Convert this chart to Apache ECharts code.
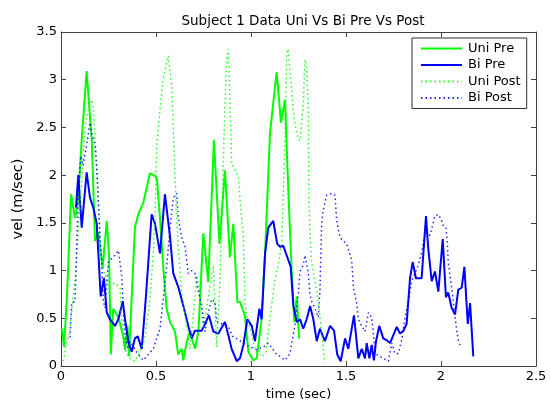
<!DOCTYPE html>
<html>
<head>
<meta charset="utf-8">
<script src="https://cdn.jsdelivr.net/npm/echarts@6/dist/echarts.min.js"></script>
<style>html,body{margin:0;padding:0;background:#fff}#c{width:550px;height:406px}</style>
</head>
<body>
<div id="c"></div>
<script>
const titleText = 'Subject 1 Data Uni Vs Bi Pre Vs Post';
const xName = 'time (sec)';
const yName = 'vel (m/sec)';
const seriesNames = ['Uni Pre', 'Bi Pre', 'Uni Post', 'Bi Post'];

const uniPre = [[0.005,0.39],[0.016,0.2],[0.032,0.75],[0.053,1.8],[0.074,1.55],[0.089,1.72],[0.11,2.4],[0.135,3.09],[0.162,2.36],[0.179,1.31],[0.196,1.4],[0.219,1.03],[0.241,1.52],[0.253,1.16],[0.262,0.12],[0.275,0.6],[0.302,0.51],[0.328,0.31],[0.337,0.17],[0.35,0.42],[0.358,0.1],[0.389,1.45],[0.407,1.59],[0.433,1.71],[0.468,2.02],[0.495,1.99],[0.505,1.96],[0.521,1.55],[0.538,1.04],[0.556,0.6],[0.574,0.46],[0.6,0.36],[0.617,0.12],[0.635,0.18],[0.644,0.06],[0.662,0.26],[0.679,0.36],[0.705,0.18],[0.723,0.36],[0.749,1.39],[0.775,0.88],[0.805,2.37],[0.834,1.28],[0.863,2.05],[0.889,1.14],[0.907,1.49],[0.928,0.67],[0.942,0.67],[0.968,0.53],[0.986,0.15],[1.012,0.06],[1.03,0.08],[1.056,0.49],[1.074,1.18],[1.1,2.44],[1.135,3.08],[1.158,2.55],[1.179,2.79],[1.196,1.86],[1.214,1.0],[1.228,0.46],[1.241,0.73],[1.253,0.29]];

const biPre = [[0.079,1.66],[0.091,2.0],[0.109,1.45],[0.135,2.03],[0.153,1.76],[0.17,1.66],[0.188,1.49],[0.209,0.73],[0.226,0.92],[0.241,0.56],[0.258,0.49],[0.284,0.42],[0.302,0.49],[0.325,0.68],[0.337,0.49],[0.354,0.26],[0.372,0.15],[0.389,0.29],[0.404,0.31],[0.425,0.18],[0.446,0.7],[0.477,1.59],[0.495,1.49],[0.521,1.18],[0.547,1.8],[0.574,1.35],[0.591,0.97],[0.617,0.83],[0.644,0.63],[0.67,0.42],[0.688,0.29],[0.705,0.37],[0.741,0.37],[0.779,0.53],[0.802,0.36],[0.828,0.34],[0.863,0.46],[0.881,0.32],[0.898,0.18],[0.925,0.05],[0.942,0.08],[0.96,0.22],[0.981,0.49],[1.004,0.42],[1.021,0.26],[1.044,0.6],[1.056,0.49],[1.074,1.18],[1.091,1.45],[1.117,1.52],[1.138,1.28],[1.153,1.25],[1.17,1.26],[1.191,1.14],[1.209,1.04],[1.223,0.63],[1.241,0.46],[1.258,0.49],[1.275,0.39],[1.293,0.49],[1.311,0.63],[1.328,0.49],[1.346,0.26],[1.363,0.39],[1.389,0.26],[1.416,0.42],[1.437,0.37],[1.454,0.12],[1.472,0.05],[1.495,0.29],[1.512,0.18],[1.542,0.53],[1.565,0.08],[1.583,0.18],[1.6,0.08],[1.609,0.24],[1.623,0.08],[1.635,0.22],[1.647,0.06],[1.658,0.26],[1.675,0.42],[1.696,0.29],[1.714,0.27],[1.732,0.24],[1.767,0.41],[1.784,0.34],[1.802,0.37],[1.819,0.44],[1.837,0.92],[1.851,1.09],[1.868,0.92],[1.881,0.92],[1.898,0.92],[1.921,1.57],[1.933,1.23],[1.951,0.89],[1.968,0.99],[1.986,0.78],[2.009,1.33],[2.026,0.72],[2.038,0.77],[2.056,0.61],[2.074,0.54],[2.091,0.8],[2.109,0.82],[2.123,1.04],[2.141,0.44],[2.153,0.66],[2.17,0.1]];

const uniPost = [[0.012,0.05],[0.03,0.24],[0.047,0.37],[0.058,0.6],[0.079,0.99],[0.091,1.44],[0.114,2.08],[0.126,2.5],[0.144,2.7],[0.162,2.79],[0.17,2.72],[0.179,2.39],[0.188,2.08],[0.205,1.37],[0.214,1.09],[0.237,0.9],[0.258,0.85],[0.284,0.87],[0.311,0.82],[0.319,0.47],[0.328,0.24],[0.346,0.13],[0.363,0.08],[0.389,0.05],[0.416,0.15],[0.442,0.29],[0.468,0.7],[0.486,1.18],[0.495,1.59],[0.504,2.31],[0.521,2.68],[0.538,3.02],[0.565,3.25],[0.583,2.92],[0.591,2.51],[0.6,2.0],[0.609,1.55],[0.617,1.25],[0.635,0.77],[0.653,0.53],[0.67,0.32],[0.679,0.18],[0.695,0.5],[0.716,0.95],[0.732,0.75],[0.749,0.39],[0.774,0.7],[0.802,1.05],[0.819,0.2],[0.837,0.9],[0.854,2.12],[0.863,2.73],[0.872,3.21],[0.881,3.32],[0.889,2.8],[0.898,2.12],[0.916,2.05],[0.933,1.98],[0.951,1.54],[0.96,1.37],[0.968,0.68],[0.977,0.51],[1.004,0.34],[1.021,0.17],[1.038,0.13],[1.058,0.1],[1.079,0.15],[1.1,0.5],[1.126,0.9],[1.147,1.1],[1.162,1.3],[1.179,2.39],[1.188,3.28],[1.196,3.32],[1.205,3.08],[1.214,2.9],[1.225,2.63],[1.241,2.43],[1.258,2.36],[1.275,2.73],[1.284,3.21],[1.293,3.11],[1.302,2.73],[1.305,1.71],[1.311,1.37],[1.319,1.09],[1.337,0.89],[1.354,0.68],[1.363,0.51],[1.372,0.34],[1.381,0.17],[1.389,0.03]];

const biPost = [[0.047,0.3],[0.056,0.66],[0.074,0.68],[0.083,1.3],[0.091,1.78],[0.104,2.2],[0.116,2.1],[0.135,2.32],[0.153,2.55],[0.162,2.43],[0.179,2.32],[0.188,2.08],[0.196,1.74],[0.205,1.37],[0.214,1.09],[0.223,0.68],[0.232,0.61],[0.249,1.09],[0.284,1.16],[0.302,1.21],[0.319,0.95],[0.328,0.61],[0.337,0.3],[0.354,0.18],[0.363,0.26],[0.407,0.12],[0.433,0.06],[0.459,0.12],[0.486,0.18],[0.505,0.3],[0.521,0.39],[0.538,0.7],[0.556,1.04],[0.574,1.45],[0.591,1.76],[0.609,1.81],[0.617,1.55],[0.635,1.35],[0.653,1.25],[0.67,0.97],[0.688,1.0],[0.705,0.97],[0.721,0.8],[0.741,0.63],[0.758,0.36],[0.774,0.55],[0.793,0.7],[0.811,0.67],[0.819,0.47],[0.847,0.44],[0.881,0.41],[0.907,0.3],[0.932,0.28],[0.96,0.24],[0.995,0.2],[1.03,0.17],[1.065,0.2],[1.091,0.24],[1.117,0.17],[1.135,0.12],[1.153,0.1],[1.179,0.06],[1.205,0.13],[1.232,0.44],[1.249,0.75],[1.258,0.99],[1.275,1.06],[1.284,1.16],[1.3,1.0],[1.311,0.75],[1.319,0.68],[1.337,0.6],[1.354,0.51],[1.363,0.8],[1.372,1.5],[1.381,1.64],[1.398,1.79],[1.425,1.81],[1.442,1.79],[1.451,1.52],[1.468,1.35],[1.486,1.31],[1.504,1.28],[1.512,1.26],[1.53,1.11],[1.539,0.83],[1.556,0.66],[1.565,0.49],[1.583,0.42],[1.6,0.36],[1.618,0.56],[1.635,0.51],[1.644,0.34],[1.653,0.13],[1.679,0.1],[1.723,0.05],[1.741,0.24],[1.758,0.13],[1.775,0.13],[1.793,0.27],[1.811,0.51],[1.828,0.68],[1.846,0.89],[1.881,1.06],[1.898,1.19],[1.916,1.4],[1.942,1.37],[1.968,1.57],[1.986,1.59],[2.0,1.54],[2.012,1.47],[2.026,1.45],[2.033,1.3],[2.038,1.09],[2.047,0.95],[2.056,0.82],[2.065,0.68],[2.074,0.51],[2.083,0.37],[2.091,0.27],[2.1,0.22]];

const chart = echarts.init(document.getElementById('c'), null, {renderer: 'canvas'});
const font = 'DejaVu Sans, Liberation Sans, Arial, sans-serif';
const axisColor = '#404040';
function xAx(pos, show) {
  return {
    type: 'value', position: pos, min: 0, max: 2.5, interval: 0.5,
    name: show ? xName : '', nameLocation: 'middle', nameGap: 22,
    nameTextStyle: {color: '#000', fontSize: 13, fontFamily: font},
    axisLine: {show: true, onZero: false, lineStyle: {color: axisColor, width: 1}},
    axisTick: {show: true, inside: true, length: 5, lineStyle: {color: axisColor}},
    axisLabel: {show: show, color: '#000', fontSize: 13, fontFamily: font, margin: 4,
      formatter: v => String(v)},
    splitLine: {show: false}
  };
}
function yAx(pos, show) {
  return {
    type: 'value', position: pos, min: 0, max: 3.5, interval: 0.5,
    name: show ? yName : '', nameLocation: 'middle', nameGap: 23, nameRotate: 90,
    nameTextStyle: {color: '#000', fontSize: 14.5, fontFamily: font},
    axisLine: {show: true, onZero: false, lineStyle: {color: axisColor, width: 1}},
    axisTick: {show: true, inside: true, length: 5, lineStyle: {color: axisColor}},
    axisLabel: {show: show, color: '#000', fontSize: 13, fontFamily: font, margin: 4,
      formatter: v => String(v)},
    splitLine: {show: false}
  };
}
function mk(name, data, color, dotted) {
  return {
    name: name, type: 'line', data: data, xAxisIndex: 0, yAxisIndex: 0,
    showSymbol: false, symbol: 'none', smooth: false, animation: false,
    lineStyle: dotted ? {color: color, width: 1.5, type: [1.5, 3], opacity: 0.85}
                      : {color: color, width: 2},
    itemStyle: {color: color}
  };
}
chart.setOption({
  animation: false,
  backgroundColor: '#fff',
  title: {text: titleText, left: 298, top: 9, textAlign: 'center',
    textStyle: {fontSize: 13.5, fontWeight: 'normal', color: '#000', fontFamily: font}},
  grid: {left: 61, right: 14, top: 32, bottom: 33, containLabel: false},
  xAxis: [xAx('bottom', true), xAx('top', false)],
  yAxis: [yAx('left', true), yAx('right', false)],
  legend: {
    show: true, orient: 'vertical', left: 412, top: 38,
    backgroundColor: '#fff', borderColor: '#303030', borderWidth: 1,
    padding: [4, 6, 4, 8], itemGap: 3.5, itemWidth: 41, itemHeight: 12.5,
    itemStyle: {opacity: 0},
    textStyle: {fontSize: 13, color: '#000', fontFamily: font, padding: [0, 0, 0, 1]},
    data: seriesNames
  },
  series: [
    mk(seriesNames[0], uniPre, '#00ff00', false),
    mk(seriesNames[1], biPre, '#0000ff', false),
    mk(seriesNames[2], uniPost, '#00ff00', true),
    mk(seriesNames[3], biPost, '#0000ff', true)
  ]
});
</script>
</body>
</html>
